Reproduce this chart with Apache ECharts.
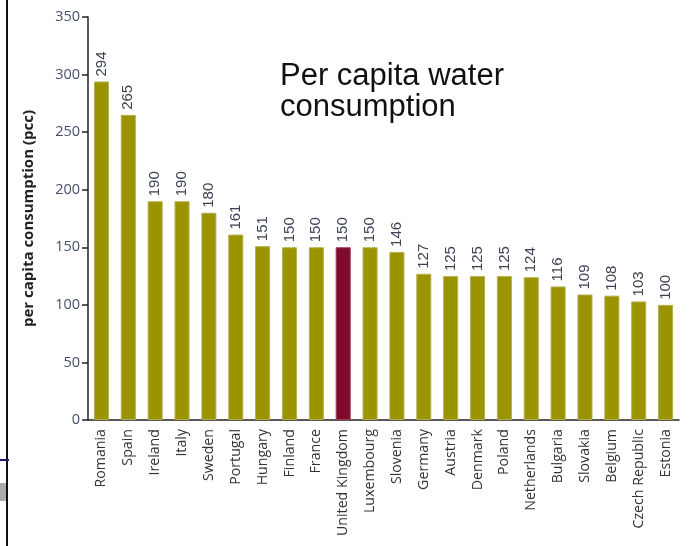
<!DOCTYPE html>
<html><head><meta charset="utf-8">
<script src="https://cdn.jsdelivr.net/npm/echarts@6/dist/echarts.min.js"></script>
<style>html,body{margin:0;padding:0;background:#fff}#c{width:689px;height:546px}</style>
</head><body><div id="c"></div>
<script>
const categories = ["Romania","Spain","Ireland","Italy","Sweden","Portugal","Hungary","Finland","France","United Kingdom","Luxembourg","Slovenia","Germany","Austria","Denmark","Poland","Netherlands","Bulgaria","Slovakia","Belgium","Czech Republic","Estonia"];
const values = [294,265,190,190,180,161,151,150,150,150,150,146,127,125,125,125,124,116,109,108,103,100];
const highlight = "United Kingdom";
const yName = "per capita consumption (pcc)";

const chart = echarts.init(document.getElementById('c'), null, {renderer:'canvas'});
chart.setOption({
  animation:false,
  grid:{left:88,right:10,top:17,bottom:126,containLabel:false},
  title:{text:"Per capita water\nconsumption",left:275,top:56,textStyle:{fontFamily:"Liberation Sans",fontSize:31,fontWeight:'normal',color:'#111',lineHeight:31}},
  xAxis:{type:'category',data:categories,
    axisLine:{lineStyle:{color:'#222',width:1.5}},
    axisTick:{alignWithLabel:false,length:7,lineStyle:{color:'#222',width:1.5}},
    axisLabel:{rotate:90,interval:0,fontFamily:"Open Sans",fontSize:14.2,color:'#333',margin:9}},
  yAxis:{type:'value',min:0,max:350,interval:50,name:yName,nameLocation:'middle',nameGap:52,
    nameTextStyle:{fontFamily:"Open Sans",fontWeight:'bold',fontSize:15,color:'#222'},
    axisLine:{show:true,lineStyle:{color:'#222',width:1.5}},
    axisTick:{show:true,length:6,lineStyle:{color:'#222',width:1.5}},
    splitLine:{show:false},
    axisLabel:{fontFamily:"Open Sans",fontSize:14.5,color:'#44506a',margin:8}},
  series:[{type:'bar',barCategoryGap:'44%',
    data:values.map((v,i)=>({value:v,itemStyle:{color:categories[i]===highlight?'#7f0a2c':'#999400',borderColor:categories[i]===highlight?'#9a3a55':'#b5b050',borderWidth:1}})),
    label:{show:true,position:'top',rotate:90,align:'left',verticalAlign:'middle',distance:5,
      fontFamily:"Liberation Sans",fontSize:15,color:'#3c4252'}}],
  graphic:[
    {type:'line',shape:{x1:7,y1:0,x2:7,y2:546},style:{stroke:'#111',lineWidth:2}},
    {type:'line',shape:{x1:0,y1:460,x2:9,y2:460},style:{stroke:'#1a1a6e',lineWidth:2}},
    {type:'rect',shape:{x:0,y:483,width:6,height:18},style:{fill:'#aaa'}}
  ]
});
</script></body></html>
